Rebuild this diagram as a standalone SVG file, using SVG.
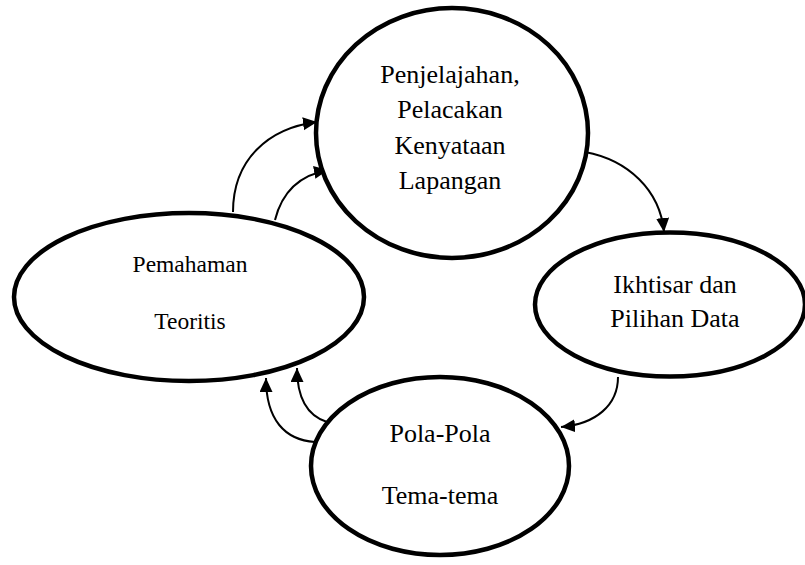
<svg xmlns="http://www.w3.org/2000/svg" width="805" height="565" viewBox="0 0 805 565">
<style>
.node ellipse{fill:#fff;stroke:#000;stroke-width:4.5}
.node text{font-family:"Liberation Serif","Times New Roman",serif;font-size:26px;fill:#000;text-anchor:middle}
.node text.small{font-size:23.5px}
#connectors path{fill:none;stroke:#000;stroke-width:2;marker-end:url(#arrow)}
</style>
<defs>
<marker id="arrow" markerUnits="userSpaceOnUse" markerWidth="15" markerHeight="14" refX="14" refY="6.5" orient="auto">
<path d="M0,0 L14,6.5 L0,13 z" fill="#000"/>
</marker>
</defs>
<rect width="805" height="565" fill="#fff"/>
<g id="connectors">
<path d="M233,212 C233,160 268,128 317,122"/>
<path d="M275,220 C282,192 300,175 328,170"/>
<path d="M585,152 C628,160 660,190 664,232"/>
<path d="M618,377 C618,405 596,424 561,427"/>
<path d="M315,442 C285,440 266,420 266,378"/>
<path d="M327,422 C305,415 297,395 297,368"/>
</g>
<g id="node-penjelajahan" class="node">
<ellipse cx="452" cy="133" rx="136" ry="125"/>
<text x="450" y="83">Penjelajahan,</text>
<text x="450" y="118">Pelacakan</text>
<text x="450" y="154">Kenyataan</text>
<text x="450" y="189">Lapangan</text>
</g>
<g id="node-pemahaman" class="node">
<ellipse cx="189" cy="297" rx="175" ry="84"/>
<text class="small" x="190" y="272">Pemahaman</text>
<text class="small" x="190" y="329">Teoritis</text>
</g>
<g id="node-ikhtisar" class="node">
<ellipse cx="670" cy="304.5" rx="135" ry="72"/>
<text x="675" y="293">Ikhtisar dan</text>
<text x="675" y="327">Pilihan Data</text>
</g>
<g id="node-pola" class="node">
<ellipse cx="440" cy="466" rx="129" ry="89"/>
<text x="440" y="442">Pola-Pola</text>
<text x="440" y="504">Tema-tema</text>
</g>
</svg>
